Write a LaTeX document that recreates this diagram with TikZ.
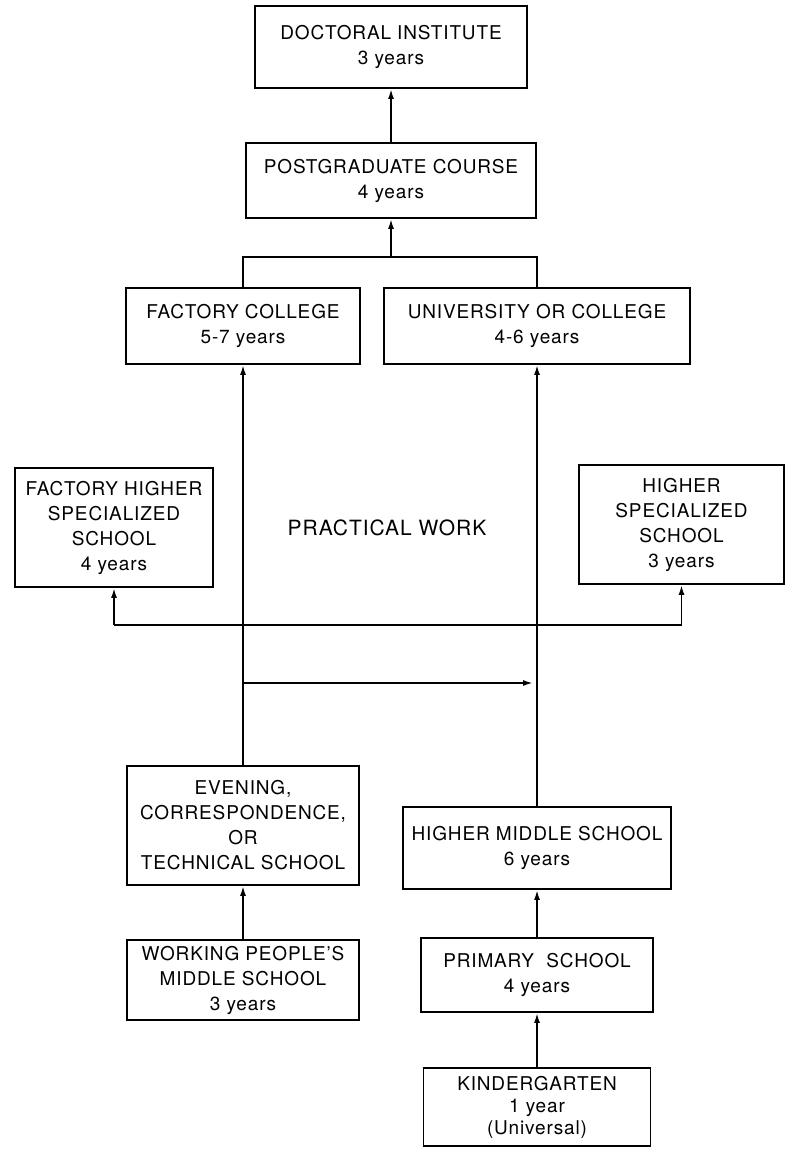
\documentclass[tikz,border=0pt]{standalone}
\usepackage{fontspec}
\setmainfont[LetterSpace=4.5]{TeX Gyre Heros}
\usetikzlibrary{arrows.meta}
\tikzset{
  box/.style={draw, line width=0.9pt, align=center, inner sep=0pt,
    font=\fontsize{9.5}{12.5}\selectfont},
  conn/.style={line width=0.9pt},
  arr/.style={conn, -{Latex[length=5pt,width=3pt]}},
}
\begin{document}
\begin{tikzpicture}[x=0.5pt,y=-0.5pt]
\useasboundingbox (0,0) rectangle (788,1150);
% boxes
\node[box, minimum width=136pt, minimum height=41pt] (doc) at (391,47) {DOCTORAL INSTITUTE\\3 years};
\node[box, minimum width=145pt, minimum height=37.5pt] (post) at (391,180.5) {POSTGRADUATE COURSE\\4 years};
\node[box, minimum width=117pt, minimum height=38pt] (fc) at (243,326) {FACTORY COLLEGE\\5-7 years};
\node[box, minimum width=153pt, minimum height=38pt] (univ) at (537,326) {UNIVERSITY OR COLLEGE\\4-6 years};
\node[box, minimum width=99pt, minimum height=59.5pt] (fhs) at (114,527.5) {FACTORY HIGHER\\SPECIALIZED\\SCHOOL\\4 years};
\node[box, minimum width=102.5pt, minimum height=59.5pt] (hss) at (681.5,524.5) {HIGHER\\SPECIALIZED\\SCHOOL\\3 years};
\node[font=\fontsize{10.5}{13}\selectfont] (pw) at (387,528) {PRACTICAL WORK};
\node[box, minimum width=116pt, minimum height=59.5pt] (eve) at (243,825.5) {EVENING,\\CORRESPONDENCE,\\OR\\TECHNICAL SCHOOL};
\node[box, minimum width=134pt, minimum height=41pt] (hms) at (537,848) {HIGHER MIDDLE SCHOOL\\6 years};
\node[box, minimum width=116pt, minimum height=40pt] (wpm) at (243,980) {WORKING PEOPLE'S\\MIDDLE SCHOOL\\3 years};
\node[box, minimum width=116pt, minimum height=37pt] (prim) at (537,975) {PRIMARY\ \ SCHOOL\\4 years};
\node[box, minimum width=113.5pt, minimum height=39pt, font=\fontsize{9.5}{11}\selectfont] (kind) at (537,1107) {KINDERGARTEN\\1 year\\(Universal)};
% connectors
\coordinate (by) at (0,257);
\coordinate (hy) at (0,625);
\coordinate (ay) at (0,683);
\draw[arr] (post.north) -- (doc.south);
\draw[conn] (fc.north) -- (fc.north |- by) -- (univ.north |- by) -- (univ.north);
\draw[arr] (post.south |- by) -- (post.south);
\draw[arr] (eve.north) -- (fc.south);
\draw[arr] (hms.north) -- (univ.south);
\draw[arr] (fhs.south |- hy) -- (fhs.south);
\draw[arr] (fhs.south |- hy) -- (hss.south |- hy) -- (hss.south);
\draw[arr, shorten >=2pt] (eve.north |- ay) -- (hms.north |- ay);
\draw[arr] (wpm.north) -- (eve.south);
\draw[arr] (prim.north) -- (hms.south);
\draw[arr] (kind.north) -- (prim.south);
\end{tikzpicture}
\end{document}
